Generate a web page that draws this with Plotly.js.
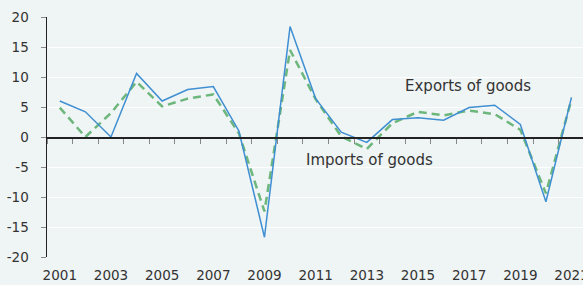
<!DOCTYPE html>
<html>
<head>
<meta charset="utf-8">
<script src="https://cdn.plot.ly/plotly-3.0.1.min.js"></script>
<style>html,body{margin:0;padding:0;overflow:hidden;background:#eff4f4;}</style>
</head>
<body>
<div id="chart" style="width:583px;height:285px;overflow:hidden;"></div>
<script>
const years = [2001,2002,2003,2004,2005,2006,2007,2008,2009,2010,2011,2012,2013,2014,2015,2016,2017,2018,2019,2020,2021];
const importsGoods = [6.0,4.2,0.0,10.6,6.0,7.9,8.4,1.0,-16.7,18.4,6.4,0.8,-0.9,2.9,3.2,2.8,4.9,5.3,2.1,-10.8,6.6];
const exportsGoods = [4.9,0.0,4.0,9.2,5.1,6.4,7.1,0.6,-12.4,14.5,6.3,0.1,-2.0,2.3,4.2,3.6,4.4,3.8,1.2,-9.4,6.3];
const xTickLabels = ['2001','2003','2005','2007','2009','2011','2013','2015','2017','2019','2021'];
const xTickVals = xTickLabels.map(Number);
const betweenTicks = years.map(y => y - 0.5);
const yTickLabels = ['-20','-15','-10','-5','0','5','10','15','20'];
const yTicks = yTickLabels.map(Number);

const tickFont = {family: '"DejaVu Sans", sans-serif', size: 13.5, color: '#333333'};
const noteFont = {family: '"DejaVu Sans", sans-serif', size: 15, color: '#333333'};
const xRange = [2000.5, 2021.45];

const traces = [
  {x: years, y: exportsGoods, type: 'scatter', mode: 'lines', name: 'Exports of goods',
   line: {color: '#6db67c', width: 2.5, dash: '8px,5px'}, hoverinfo: 'skip'},
  {x: years, y: importsGoods, type: 'scatter', mode: 'lines', name: 'Imports of goods',
   line: {color: '#3f8fd2', width: 1.5}, hoverinfo: 'skip'},
  {x: years, y: importsGoods, type: 'scatter', mode: 'lines', xaxis: 'x2', yaxis: 'y',
   line: {width: 0, color: 'rgba(0,0,0,0)'}, hoverinfo: 'skip', showlegend: false}
];

const layout = {
  width: 583, height: 285,
  margin: {l: 47, r: 0, t: 17, b: 28},
  paper_bgcolor: '#eff4f4', plot_bgcolor: '#eff4f4',
  font: tickFont,
  showlegend: false,
  xaxis: {
    range: xRange, tickvals: xTickVals, ticktext: xTickLabels,
    showgrid: false, zeroline: false, showline: false,
    ticks: 'outside', ticklen: 6, tickcolor: 'rgba(0,0,0,0)',
    ticklabeloverflow: 'allow',
    tickfont: tickFont
  },
  xaxis2: {
    overlaying: 'x', anchor: 'free', position: 0.5, side: 'bottom',
    range: xRange, tickvals: betweenTicks, showticklabels: false,
    showgrid: false, zeroline: false, showline: true, linecolor: '#222222', linewidth: 1.5,
    ticks: 'outside', ticklen: 5, tickcolor: '#888888', tickwidth: 1
  },
  yaxis: {
    range: [-20, 20], tickvals: yTicks, ticktext: yTickLabels,
    showgrid: true, gridcolor: '#ffffff', gridwidth: 1,
    zeroline: false, showline: true, linecolor: '#222222', linewidth: 1.5,
    ticks: 'outside', ticklen: 5, tickcolor: '#888888',
    ticklabelstandoff: 9,
    tickfont: tickFont
  },
  annotations: [
    {text: 'Exports of goods', x: 2016.95, y: 8.5, xref: 'x', yref: 'y', showarrow: false, font: noteFont},
    {text: 'Imports of goods', x: 2013.1, y: -3.8, xref: 'x', yref: 'y', showarrow: false, font: noteFont}
  ]
};

Plotly.newPlot('chart', traces, layout, {displayModeBar: false, staticPlot: true});
</script>
</body>
</html>
